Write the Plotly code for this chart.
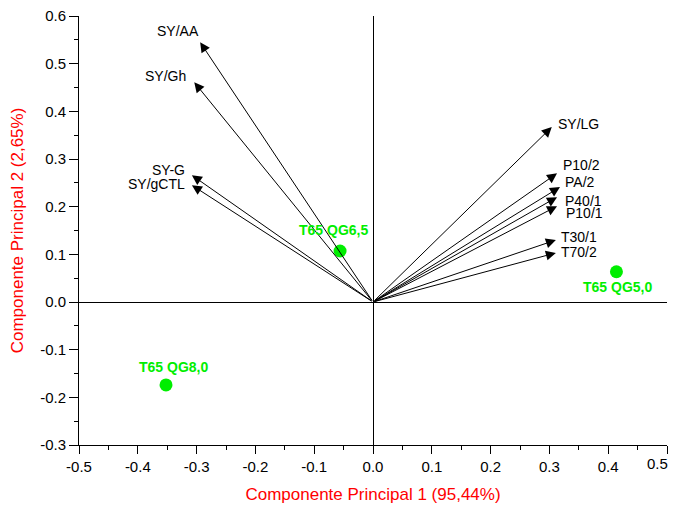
import plotly.graph_objects as go

# Loadings (arrow tips)
var_names = ["SY/AA", "SY/Gh", "SY-G", "SY/gCTL", "SY/LG", "P10/2", "PA/2", "P40/1", "P10/1", "T30/1", "T70/2"]
var_pc1 = [-0.294, -0.304, -0.308, -0.308, 0.304, 0.313, 0.318, 0.313, 0.313, 0.311, 0.311]
var_pc2 = [0.545, 0.461, 0.266, 0.245, 0.367, 0.270, 0.241, 0.220, 0.201, 0.130, 0.103]

# Scores (green points)
obs_names = ["T65 QG6,5", "T65 QG5,0", "T65 QG8,0"]
obs_pc1 = [-0.056, 0.414, -0.352]
obs_pc2 = [0.107, 0.0635, -0.174]

# Tick labels
x_tick_vals = [-0.5, -0.4, -0.3, -0.2, -0.1, 0.0, 0.1, 0.2, 0.3, 0.4, 0.5]
x_tick_text = ["-0.5", "-0.4", "-0.3", "-0.2", "-0.1", "0.0", "0.1", "0.2", "0.3", "0.4", "0.5"]
y_tick_vals = [-0.3, -0.2, -0.1, 0.0, 0.1, 0.2, 0.3, 0.4, 0.5, 0.6]
y_tick_text = ["-0.3", "-0.2", "-0.1", "0.0", "0.1", "0.2", "0.3", "0.4", "0.5", "0.6"]

x_title = "Componente Principal 1 (95,44%)"
y_title = "Componente Principal 2 (2,65%)"

# label placement styles (anchor, pixel offsets) per variable
var_label_style = {
    "SY/AA": ("right", 1, 11),
    "SY/Gh": ("right", -6, 6),
    "SY-G": ("right", -5, 5),
    "SY/gCTL": ("right", -5, 1),
    "SY/LG": ("left", 4, 3),
    "P10/2": ("left", 4, 8),
    "PA/2": ("left", 3, 5),
    "P40/1": ("left", 6, -4),
    "P10/1": ("left", 7, -7),
    "T30/1": ("left", 3, 3),
    "T70/2": ("left", 3, 1),
}
obs_label_style = {
    "T65 QG6,5": (-7, 21),
    "T65 QG5,0": (1, -15),
    "T65 QG8,0": (7, 18),
}

FONT = "Liberation Sans, Arial"
GREEN = "#00ee00"

fig = go.Figure()

fig.add_trace(go.Scatter(
    x=obs_pc1, y=obs_pc2, mode="markers",
    marker=dict(color=GREEN, size=13),
    showlegend=False, hoverinfo="skip",
))

annotations = []
for n, x, y in zip(var_names, var_pc1, var_pc2):
    annotations.append(dict(
        x=x, y=y, ax=0, ay=0, xref="x", yref="y", axref="x", ayref="y",
        showarrow=True, arrowhead=2, arrowsize=2, arrowwidth=1,
        arrowcolor="black", text="", standoff=0,
    ))
    anc, dx, dy = var_label_style[n]
    annotations.append(dict(
        x=x, y=y, xref="x", yref="y", text=n, showarrow=False,
        xanchor=anc, yanchor="middle", xshift=dx, yshift=dy,
        font=dict(family=FONT, size=14, color="black"),
    ))

for n, x, y in zip(obs_names, obs_pc1, obs_pc2):
    dx, dy = obs_label_style[n]
    annotations.append(dict(
        x=x, y=y, xref="x", yref="y", text="<b>" + n + "</b>", showarrow=False,
        xanchor="center", yanchor="middle", xshift=dx, yshift=dy,
        font=dict(family=FONT, size=14, color=GREEN),
    ))

# last x tick label sits at the window edge: draw it right-aligned so it stays visible
x_tick_text_axis = x_tick_text[:-1] + [""]
annotations.append(dict(
    x=x_tick_vals[-1], y=0, xref="x", yref="paper", text=x_tick_text[-1],
    showarrow=False, xanchor="right", yanchor="top", xshift=3, yshift=-8,
    font=dict(family=FONT, size=15, color="black"),
))

axis_common = dict(
    showline=True, linecolor="black", linewidth=1,
    ticks="outside", tickcolor="black", tickwidth=1,
    showgrid=False, zeroline=True, zerolinecolor="black", zerolinewidth=1,
    tickfont=dict(family=FONT, size=15, color="black"),
    automargin=False, tickmode="array", ticklabeloverflow="allow",
)

# page body has an 8px default margin, so the figure is sized to fit the window
fig.update_layout(
    width=670, height=498,
    margin=dict(l=71, r=11, t=8, b=61),
    plot_bgcolor="white", paper_bgcolor="white",
    annotations=annotations,
    xaxis=dict(
        range=[-0.5, 0.5], tickvals=x_tick_vals, ticktext=x_tick_text_axis, ticklen=8,
        minor=dict(ticks="outside", ticklen=4, dtick=0.05, tick0=0, tickcolor="black"),
        title=dict(text=x_title, font=dict(family=FONT, size=17, color="red"), standoff=14),
        **axis_common,
    ),
    yaxis=dict(
        range=[-0.3, 0.6], tickvals=y_tick_vals, ticktext=y_tick_text, ticklen=9,
        minor=dict(ticks="outside", ticklen=4, dtick=0.05, tick0=0, tickcolor="black"),
        title=dict(text=y_title, font=dict(family=FONT, size=17, color="red"), standoff=12),
        **axis_common,
    ),
)

fig.write_html("out.html")
